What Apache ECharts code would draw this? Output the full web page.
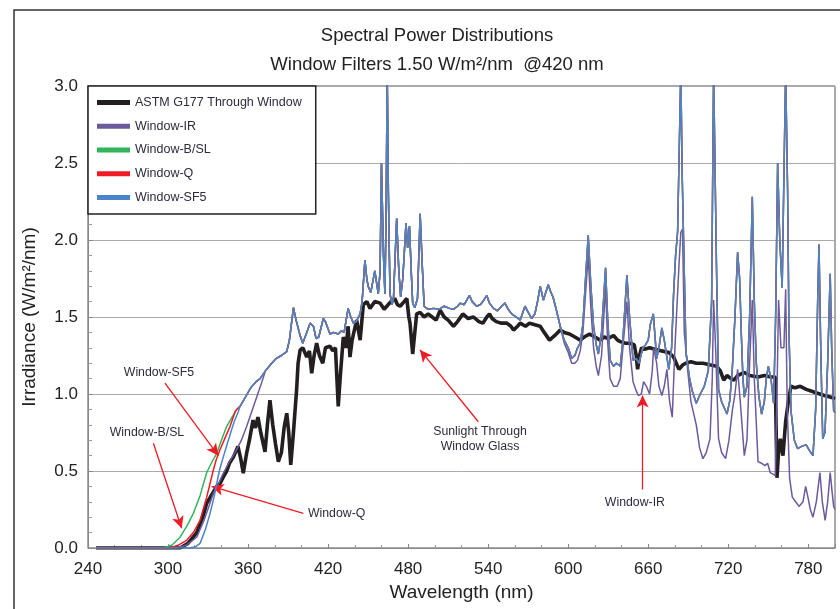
<!DOCTYPE html>
<html><head><meta charset="utf-8">
<script src="https://cdn.jsdelivr.net/npm/echarts@6/dist/echarts.min.js"></script>
<style>html,body{margin:0;padding:0;background:#fff}#c{width:840px;height:609px}</style>
</head><body><div id="c"></div>
<script>
const FONT = "'Liberation Sans Narrow','Liberation Sans',Arial,sans-serif";
const titleText = 'Spectral Power Distributions';
const subtitleText = 'Window Filters 1.50 W/m\u00B2/nm  @420 nm';
const xName = 'Wavelength (nm)';
const yName = 'Irradiance (W/m\u00B2/nm)';
const seriesNames = ['ASTM G177 Through Window','Window-IR','Window-B/SL','Window-Q','Window-SF5'];
const seriesColors = ['#231f20','#6b5a9e','#33b35a','#ee1c25','#4a85c9'];

// ASTM G177 through window (black)
const astm = [[246,0],[300,0],[309,0],[315,0.03],[321.5,0.10],[326,0.2],[329,0.29],[333,0.35],[336.5,0.40],[339,0.42],[341.4,0.46],[344,0.50],[346,0.55],[349,0.59],[352.4,0.66],[354.5,0.58],[356.4,0.485],[359,0.62],[361,0.70],[363.7,0.83],[365.5,0.78],[367.4,0.85],[369.5,0.75],[372.7,0.625],[374.5,0.80],[376.4,0.96],[378.5,0.80],[380.5,0.68],[382.7,0.56],[385,0.62],[387,0.78],[389,0.875],[390.5,0.75],[392,0.54],[394,0.75],[396.4,1.03],[397.5,1.20],[399,1.285],[401,1.30],[404,1.24],[406,1.28],[407.7,1.135],[409.5,1.25],[411.4,1.33],[413.5,1.25],[416,1.20],[418,1.30],[421.4,1.31],[423.5,1.28],[425.5,1.30],[427.6,0.92],[429,1.10],[431.4,1.37],[433.5,1.30],[435,1.44],[436.4,1.24],[438,1.35],[441.4,1.48],[444,1.35],[446.4,1.58],[449,1.60],[451.4,1.556],[455,1.60],[459,1.59],[462,1.55],[464,1.57],[467,1.60],[470,1.62],[472,1.58],[474,1.57],[477,1.60],[479,1.62],[480.5,1.50],[481.4,1.46],[483.4,1.26],[485,1.40],[486.4,1.52],[489,1.53],[492,1.50],[495,1.52],[498,1.50],[501,1.48],[504,1.545],[507,1.50],[510,1.48],[514,1.44],[517,1.47],[521,1.52],[525,1.49],[529,1.50],[533,1.47],[536,1.46],[539,1.50],[541,1.52],[543,1.49],[546,1.47],[550,1.46],[554,1.46],[557,1.44],[559,1.415],[562,1.44],[564,1.46],[568,1.44],[571,1.46],[575,1.45],[579,1.44],[582,1.40],[586,1.35],[590,1.38],[594,1.415],[597,1.40],[601,1.39],[605,1.37],[609,1.35],[612,1.37],[616,1.39],[620,1.37],[624,1.35],[627,1.37],[630,1.36],[634,1.38],[637,1.35],[639,1.34],[643,1.33],[646,1.33],[649.5,1.32],[651,1.25],[652,1.16],[653.5,1.25],[655,1.30],[657,1.29],[661,1.30],[665,1.29],[670,1.28],[675.4,1.27],[679,1.24],[681,1.20],[683,1.16],[686,1.19],[688.3,1.20],[692,1.21],[696,1.20],[701,1.20],[706,1.19],[711.4,1.18],[714,1.15],[716.6,1.09],[719,1.12],[722,1.10],[724.2,1.09],[727,1.12],[732,1.14],[736,1.12],[742.3,1.11],[747,1.12],[752,1.11],[755.2,1.11],[756.5,0.456],[757.5,0.6],[759,0.71],[761,0.60],[763,0.82],[765,0.95],[767,1.05],[770,1.04],[774,1.05],[778.4,1.03],[782,1.02],[785,1.01],[788.7,1.00],[792,0.99],[796.4,0.98],[800,0.97]];

// UV cut-on edges of each filter
const bslUV = [[246,0],[296.5,0],[303,0.02],[309,0.07],[314,0.14],[319,0.225],[324,0.34],[329,0.49],[333,0.56],[336.5,0.615],[340,0.70],[344,0.79],[348,0.85],[351.5,0.90]];
const qUV = [[246,0],[301.5,0],[308,0.02],[314,0.05],[319,0.10],[324,0.18],[329,0.33],[333.5,0.49],[336,0.57],[339,0.64],[343,0.72],[346.5,0.79],[350.5,0.89]];
const sf5UV = [[246,0],[316.5,0],[321,0.01],[324,0.03],[328,0.12],[331.5,0.225],[334.5,0.33],[337,0.44],[339,0.52],[341.4,0.59],[344.5,0.68],[347.7,0.77],[350,0.83],[352.7,0.885]];
const irUV = [[246,0],[306.5,0],[314,0.02],[321.5,0.07],[327,0.18],[331,0.28],[334,0.355],[338,0.42],[341.4,0.485],[346,0.56],[351.5,0.64],[355,0.70],[359,0.79],[362.5,0.88],[366.5,0.98],[370,1.07],[373,1.15]];

// Shared filtered-light spectrum above the cut-on (SF5 / Q / B-SL)
const filterCommon = [[354,0.92],[358,0.98],[362,1.04],[366,1.08],[369,1.10],[373,1.15],[377.7,1.20],[381,1.23],[385,1.25],[389,1.275],[391,1.35],[394,1.56],[396,1.48],[399,1.38],[401,1.33],[404,1.40],[406.5,1.46],[409,1.44],[411,1.36],[413,1.37],[416.4,1.49],[418,1.47],[421.4,1.39],[424,1.40],[427.6,1.39],[430,1.41],[432,1.40],[435,1.556],[437,1.50],[439,1.46],[441,1.47],[444,1.52],[445.5,1.60],[447.6,1.87],[449,1.75],[450,1.70],[452,1.66],[455,1.80],[457.6,1.65],[459,1.80],[460,2.50],[461.5,1.90],[462.6,1.65],[463.5,2.2],[464.3,3.1],[465.2,2.3],[466.4,1.65],[468,1.58],[469,1.62],[471.4,2.14],[473,1.80],[474.4,1.63],[476,1.75],[478.4,2.11],[479.6,1.95],[481,2.09],[482.3,1.80],[483.4,1.59],[485,1.56],[487,1.62],[489,2.17],[490.5,1.85],[492,1.57],[495,1.55],[499,1.556],[503,1.55],[507,1.57],[511,1.556],[514,1.55],[517,1.57],[519,1.59],[522,1.58],[526,1.64],[528,1.60],[531.4,1.57],[534,1.58],[536,1.60],[539,1.64],[541,1.59],[544,1.556],[547,1.54],[550,1.57],[552.6,1.59],[555,1.55],[557.6,1.52],[561,1.50],[564,1.48],[567.6,1.57],[570,1.53],[572.6,1.49],[575,1.52],[577,1.60],[579,1.70],[581.4,1.61],[585,1.71],[587,1.66],[588.6,1.63],[591,1.55],[594,1.44],[597,1.35],[600,1.30],[602.6,1.23],[605,1.25],[607,1.30],[609,1.33],[611,1.45],[613,1.75],[615,2.03],[617,1.70],[619,1.44],[621,1.32],[622.6,1.26],[625,1.40],[628,1.82],[629.5,1.50],[631.4,1.22],[634,1.18],[636,1.20],[639,1.18],[641,1.35],[644,1.77],[646,1.50],[648.6,1.22],[651,1.23],[653,1.20],[656,1.30],[658,1.32],[660,1.35],[661.5,1.45],[663.8,1.52],[666.3,1.23],[668,1.30],[670.2,1.43],[672,1.35],[675.4,1.16],[677.5,1.30],[679,1.65],[680.5,1.90],[682,2.05],[684.4,3.1],[685.5,2.4],[688.3,1.27],[691,1.10],[693,1.02],[696,0.94],[699,1.00],[702,1.05],[705,1.15],[707.5,1.6],[709,3.1],[710,3.1],[711.2,1.8],[712.7,1.03],[715,0.95],[719,0.87],[721,0.95],[723,1.16],[725,1.5],[727,1.92],[728.5,1.75],[729.8,1.38],[731,1.10],[732,0.98],[734,1.05],[736,1.5],[738,2.28],[739.5,1.6],[741,1.20],[743,0.98],[745,0.87],[747,0.95],[748.5,1.10],[750,1.18],[752,1.10],[754,0.94],[755.5,1.5],[757,2.50],[758.6,2.0],[760.4,1.69],[761.5,2.3],[763,3.1],[764.5,2.3],[765.5,1.4],[767,0.89],[769.5,0.70],[772,0.645],[775,0.66],[778.4,0.67],[781,0.63],[783.5,0.60],[785.5,0.9],[787,1.60],[788,1.97],[789.3,1.3],[790.8,0.71],[792.5,0.75],[794.5,1.2],[796.4,1.78],[797.5,1.3],[799,0.89],[800,0.88]];

// Window-IR near-infrared part (lower)
const irNIR = [[594,1.44],[597,1.33],[600,1.27],[602.6,1.20],[605,1.20],[607,1.22],[609,1.28],[611,1.40],[613,1.65],[615,1.90],[617,1.55],[619,1.30],[621,1.18],[622.6,1.12],[625,1.25],[628,1.70],[629.5,1.35],[631.4,1.10],[634,1.05],[636.7,1.05],[639,1.10],[641,1.30],[644,1.60],[646,1.30],[648.6,1.08],[651,1.02],[652.6,0.99],[654.8,1.00],[656.5,1.08],[658.6,1.05],[661,1.00],[663,1.15],[664,1.30],[666.3,1.20],[668,1.05],[670.2,0.99],[672,1.05],[674,1.16],[676,0.95],[678,0.85],[680,1.30],[683,1.83],[684.4,2.05],[685.7,2.07],[687,1.40],[689.5,1.16],[692,0.95],[696,0.80],[698.5,0.65],[701,0.58],[703.5,0.62],[706.3,0.71],[708,1.10],[709,1.61],[710.5,1.30],[712.7,0.71],[715,0.62],[718,0.58],[720.5,0.70],[723,0.89],[725,1.00],[727,1.16],[729,0.95],[732,0.60],[734,0.70],[736,1.20],[738,1.61],[739.5,1.10],[742.3,0.56],[745,0.55],[747.5,0.535],[749.5,0.55],[751.4,0.49],[753.5,0.48],[755.2,0.47],[756.5,1.0],[757.7,1.61],[759.5,1.30],[761.7,1.30],[763,1.68],[764.2,0.9],[766,0.45],[768,0.33],[770.5,0.30],[773,0.27],[776,0.30],[778,0.40],[779.7,0.33],[781.5,0.25],[783.5,0.20],[786,0.30],[788.7,0.49],[790.5,0.30],[792.6,0.18],[794.5,0.30],[796.4,0.49],[798,0.35],[799,0.27],[800,0.25]];

// annotations: [label, text position, arrow start, arrow tip] in data units
const annotations = [
  ['Window-SF5', [293.2,1.136], [297.7,1.07], [337.7,0.60]],
  ['Window-B/SL', [284.2,0.747], [289,0.68], [310.2,0.128]],
  ['Window-Q', [426.4,0.225], [401.4,0.225], [332.7,0.40]],
  ['Sunlight Through\nWindow Glass', [533.9,0.71], [532.6,0.82], [488.9,1.286]],
  ['Window-IR', [650,0.294], [655.8,0.38], [655.8,0.99]]
];

const irData = irUV.concat(filterCommon.filter(p => p[0] >= 377 && p[0] < 594)).concat(irNIR);
const dataSets = [astm, irData, bslUV.concat(filterCommon), qUV.concat(filterCommon), sf5UV.concat(filterCommon)];
const widths = [3.6, 1.5, 1.5, 1.5, 1.5];

const chart = echarts.init(document.getElementById('c'));
const series = dataSets.map((d, i) => ({
  name: seriesNames[i], type: 'line', data: d, showSymbol: false, symbol: 'none',
  lineStyle: { color: seriesColors[i], width: widths[i] }, itemStyle: { color: seriesColors[i] },
  clip: true, z: 2 + i, animation: false
}));
series.push({
  name: 'annot', type: 'line', data: [], silent: true, animation: false, z: 10,
  markLine: {
    silent: true, symbol: ['none', 'arrow'], symbolSize: [9, 12], animation: false,
    lineStyle: { color: '#ee1c25', width: 1.3, type: 'solid' }, label: { show: false },
    data: annotations.map(a => [{ coord: a[2] }, { coord: a[3] }])
  },
  markPoint: {
    silent: true, symbol: 'circle', symbolSize: 0, animation: false,
    label: { show: true, position: 'inside', color: '#2e2b3c', fontSize: 12.3, fontFamily: FONT, lineHeight: 15, formatter: p => p.name },
    data: annotations.map(a => ({ name: a[0], coord: a[1] }))
  }
});

chart.setOption({
  animation: false,
  backgroundColor: '#fff',
  textStyle: { fontFamily: FONT },
  title: [
    { text: titleText, left: 432, top: 21, textAlign: 'center', textStyle: { fontSize: 18.5, fontWeight: 'normal', color: '#222', fontFamily: FONT } },
    { text: subtitleText, left: 432, top: 50, textAlign: 'center', textStyle: { fontSize: 18.5, fontWeight: 'normal', color: '#222', fontFamily: FONT } }
  ],
  legend: {
    data: seriesNames, orient: 'vertical', left: 88, top: 86,
    backgroundColor: '#fff', borderColor: '#222', borderWidth: 1.5, borderRadius: 0,
    padding: [10, 14, 10, 9], itemWidth: 33, itemHeight: 5, itemGap: 10.75, icon: 'rect',
    textStyle: { fontSize: 12.5, color: '#2e2b3c', fontFamily: FONT }
  },
  grid: { left: 88, right: 5, top: 86, bottom: 61, show: true, borderColor: '#555', borderWidth: 1 },
  xAxis: {
    type: 'value', min: 240, max: 800, interval: 60,
    name: xName, nameLocation: 'middle', nameGap: 33,
    nameTextStyle: { fontSize: 19, color: '#222', fontFamily: FONT },
    axisLine: { show: true, lineStyle: { color: '#888' } },
    axisTick: { show: true, inside: true, length: 4, lineStyle: { color: '#888' } },
    minorTick: { show: true, splitNumber: 3, length: 3, lineStyle: { color: '#999' } },
    axisLabel: { fontSize: 17, color: '#222', margin: 13, fontFamily: FONT, showMaxLabel: false },
    splitLine: { show: false }
  },
  yAxis: {
    type: 'value', min: 0, max: 3, interval: 0.5,
    name: yName, nameLocation: 'middle', nameGap: 48.5, nameRotate: 90,
    nameTextStyle: { fontSize: 19, color: '#222', fontFamily: FONT },
    axisLine: { show: true, lineStyle: { color: '#888' } },
    axisTick: { show: true, inside: true, length: 5, lineStyle: { color: '#888' } },
    minorTick: { show: true, splitNumber: 5, length: 4, lineStyle: { color: '#999' } },
    axisLabel: { fontSize: 17, color: '#222', margin: 10, fontFamily: FONT, formatter: v => v.toFixed(1) },
    splitLine: { show: true, lineStyle: { color: '#aaa', width: 1 } }
  },
  graphic: [
    { type: 'rect', shape: { x: 14, y: 10, width: 840, height: 620 }, style: { fill: 'none', stroke: '#333', lineWidth: 1.5 }, silent: true, z: -1 }
  ],
  series: series
});
</script></body></html>
